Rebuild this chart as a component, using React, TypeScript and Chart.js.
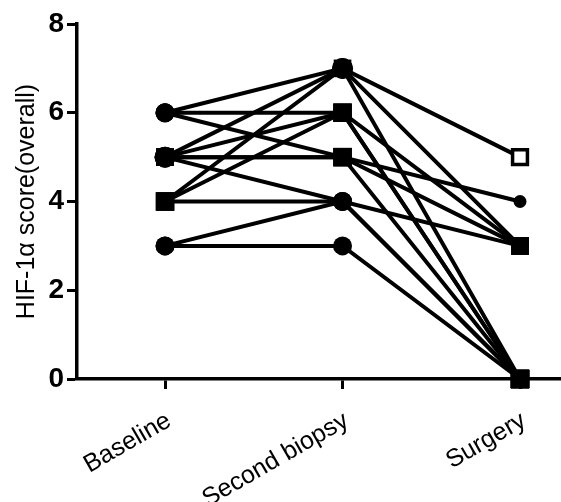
import React, { useEffect, useRef } from 'react';
import { Chart, registerables } from 'chart.js';

Chart.register(...registerables);

const categories = ['Baseline', 'Second biopsy', 'Surgery'];
const yTickValues = [0, 2, 4, 6, 8];

// HIF-1α overall score per patient: [Baseline, Second biopsy, Surgery]
const patientA = [6, 7, 5];
const patientB = [5, 7, 3];
const patientC = [4, 7, 0];
const patientD = [6, 6, 3];
const patientE = [5, 6, 0];
const patientF = [4, 6, 0];
const patientG = [6, 5, 4];
const patientH = [5, 5, 3];
const patientI = [5, 5, 0];
const patientJ = [5, 4, 3];
const patientK = [4, 4, 0];
const patientL = [3, 4, 0];
const patientM = [3, 3, 0];

const patients = [
  patientA, patientB, patientC, patientD, patientE, patientF, patientG,
  patientH, patientI, patientJ, patientK, patientL, patientM,
];

const FONT = "'Liberation Sans', Arial, Helvetica, sans-serif";

type Marker = [string, number, boolean];

function marker(stage: number, value: number, k: number): Marker {
  if (stage === 2 && value === 5) return ['rect', 10.5, false];
  if (stage === 2 && value === 4) return ['circle', 6.5, true];
  const key = stage + ':' + value;
  const circleNodes: Record<string, boolean> = { '0:6': true, '0:3': true, '1:4': true, '1:3': true };
  const mixNodes: Record<string, boolean> = { '0:5': true, '1:7': true, '2:3': true };
  if (circleNodes[key]) return ['circle', 9.5, true];
  if (mixNodes[key]) return k % 2 === 0 ? ['circle', 10.5, true] : ['rect', 12.5, true];
  return ['rect', 13, true];
}

export default function App() {
  const canvasRef = useRef<HTMLCanvasElement | null>(null);

  useEffect(() => {
    const canvas = canvasRef.current;
    if (!canvas) return;

    const get = (ctx: any): Marker => {
      const k = ctx.datasetIndex;
      const i = ctx.dataIndex;
      return marker(i, patients[k][i], k);
    };

    const chart = new Chart(canvas, {
      type: 'line',
      data: {
        datasets: patients.map((vals) => ({
          data: vals.map((v, i) => ({ x: i, y: v })),
          borderColor: '#000',
          borderWidth: 4,
          pointStyle: (ctx: any) => get(ctx)[0],
          pointRadius: (ctx: any) => get(ctx)[1],
          pointBackgroundColor: (ctx: any) => (get(ctx)[2] ? '#000' : '#fff'),
          pointBorderColor: '#000',
          pointBorderWidth: (ctx: any) => (get(ctx)[2] ? 0 : 3.5),
          clip: false as any,
          tension: 0,
        })),
      },
      options: {
        animation: false,
        responsive: false,
        events: [],
        layout: { autoPadding: false, padding: { top: 24, right: 0, left: 0, bottom: 0 } },
        plugins: {
          legend: { display: false },
          tooltip: { enabled: false },
        },
        scales: {
          x: {
            type: 'linear',
            min: -0.496,
            max: 2.231,
            afterBuildTicks: (scale: any) => {
              scale.ticks = categories.map((_, i) => ({ value: i }));
            },
            afterFit: (scale: any) => {
              scale.height = 123;
              scale.paddingLeft = 0;
              scale.paddingRight = 0;
            },
            grid: {
              drawOnChartArea: false,
              drawTicks: true,
              tickLength: 10,
              tickWidth: 3,
              tickColor: '#000',
            },
            border: { color: '#000', width: 3.5 },
            ticks: {
              autoSkip: false,
              maxRotation: 30,
              minRotation: 30,
              padding: 17,
              labelOffset: 4,
              color: '#000',
              font: { family: FONT, size: 25 },
              callback: (v: any) => categories[Math.round(Number(v))] ?? '',
            },
          },
          y: {
            min: 0,
            max: 8,
            afterBuildTicks: (scale: any) => {
              scale.ticks = yTickValues.map((v) => ({ value: v }));
            },
            afterFit: (scale: any) => {
              scale.width = 77;
            },
            grid: {
              drawOnChartArea: false,
              drawTicks: true,
              tickLength: 10,
              tickWidth: 3,
              tickColor: '#000',
            },
            border: { color: '#000', width: 3.5 },
            ticks: {
              padding: 3,
              color: '#000',
              font: { family: FONT, size: 28, weight: 'bold' },
            },
            title: {
              display: true,
              text: 'HIF-1α score(overall)',
              color: '#000',
              font: { family: FONT, size: 25 },
              padding: { top: 12, bottom: 0 },
            },
          },
        },
      },
    } as any);

    return () => chart.destroy();
  }, []);

  return (
    <div style={{ position: 'absolute', left: 0, top: 0, width: 561, height: 502, background: '#fff' }}>
      <canvas ref={canvasRef} width={561} height={502} style={{ display: 'block' }} />
    </div>
  );
}
